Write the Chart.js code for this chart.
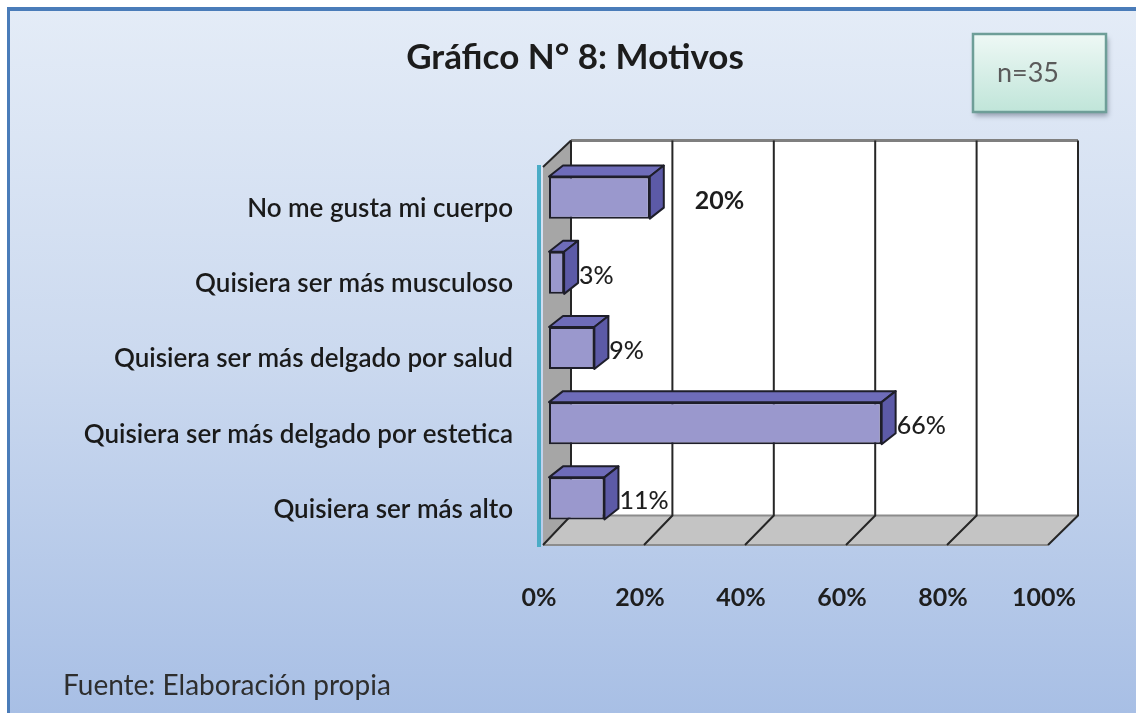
<!DOCTYPE html>
<html><head><meta charset="utf-8">
<script src="https://cdn.jsdelivr.net/npm/chart.js@4.4.1/dist/chart.umd.min.js"></script>
<style>html,body{margin:0;padding:0;background:#fff}canvas{display:block}</style>
</head><body>
<canvas id="c" width="1136" height="713"></canvas>
<script>
const categories = ["No me gusta mi cuerpo", "Quisiera ser más musculoso", "Quisiera ser más delgado por salud", "Quisiera ser más delgado por estetica", "Quisiera ser más alto"];
const percentages = [20, 3, 9, 66, 11];
const valueLabels = ["20%", "3%", "9%", "66%", "11%"];
const xTickValues = [0, 20, 40, 60, 80, 100];
const xTickLabels = ["0%", "20%", "40%", "60%", "80%", "100%"];
const chartTitle = "Gráfico N° 8: Motivos";
const sampleNote = "n=35";
const sourceNote = "Fuente: Elaboración propia";

const FONT = "Lato, 'Open Sans', sans-serif";
const labelNudge = [30, 0, 0, 0, 0];

function poly(ctx, pts, fill, stroke, lw) {
  ctx.beginPath();
  ctx.moveTo(pts[0][0], pts[0][1]);
  for (let i = 1; i < pts.length; i++) ctx.lineTo(pts[i][0], pts[i][1]);
  ctx.closePath();
  if (fill) { ctx.fillStyle = fill; ctx.fill(); }
  if (stroke) { ctx.strokeStyle = stroke; ctx.lineWidth = lw || 1; ctx.lineJoin = 'round'; ctx.stroke(); }
}

const backgroundPlugin = {
  id: 'bg',
  beforeDraw(chart) {
    const { ctx, width, height } = chart;
    ctx.save();
    ctx.fillStyle = '#ffffff';
    ctx.fillRect(0, 0, width, height);
    const g = ctx.createLinearGradient(0, 7, 0, height);
    g.addColorStop(0, '#e4ecf7');
    g.addColorStop(0.5, '#cbd9ef');
    g.addColorStop(1, '#a8bfe5');
    ctx.fillStyle = g;
    ctx.fillRect(7, 7, width - 7, height - 7);
    ctx.fillStyle = '#4a7cb9';
    ctx.fillRect(7, 7, width - 7, 4);
    ctx.fillRect(7, 7, 3, height - 7);

    // title
    ctx.fillStyle = '#1c1c1c';
    ctx.font = 'bold 35px ' + FONT;
    ctx.textAlign = 'center';
    ctx.textBaseline = 'alphabetic';
    ctx.fillText(chartTitle, 575, 69);

    // n box
    ctx.save();
    ctx.shadowColor = 'rgba(60,70,90,0.45)';
    ctx.shadowBlur = 5;
    ctx.shadowOffsetX = 2;
    ctx.shadowOffsetY = 4;
    const gb = ctx.createLinearGradient(0, 34, 0, 112);
    gb.addColorStop(0, '#eef8f5');
    gb.addColorStop(1, '#c0e5d9');
    ctx.fillStyle = gb;
    ctx.fillRect(973, 34, 133, 78);
    ctx.restore();
    ctx.strokeStyle = '#6e9e98';
    ctx.lineWidth = 2.5;
    ctx.strokeRect(973, 34, 133, 78);
    ctx.fillStyle = '#5a5a5a';
    ctx.font = '27px ' + FONT;
    ctx.textAlign = 'center';
    ctx.textBaseline = 'middle';
    ctx.fillText(sampleNote, 1028, 73);

    // source
    ctx.fillStyle = '#2e2e2e';
    ctx.font = '28px ' + FONT;
    ctx.textAlign = 'left';
    ctx.textBaseline = 'alphabetic';
    ctx.fillText(sourceNote, 63, 695);
    ctx.restore();
  }
};

const framePlugin = {
  id: 'frame3d',
  beforeDatasetsDraw(chart) {
    const { ctx, chartArea: a } = chart;
    const xs = chart.scales.x;
    const bx = v => xs.getPixelForValue(v) + 22 + v * 0.03;
    const fx = v => xs.getPixelForValue(v) - 6 + v * 0.01;
    const backTop = a.top - 19.5, backBot = a.bottom - 20.5;
    const frontTop = a.top + 7, frontBot = a.bottom + 9;
    ctx.save();
    poly(ctx, [[bx(0), backTop], [bx(0), backBot], [fx(0), frontBot], [fx(0), frontTop]], '#a6a6a6');
    ctx.fillStyle = '#ffffff';
    ctx.fillRect(bx(0), backTop, bx(100) - bx(0), backBot - backTop);
    poly(ctx, [[bx(0), backBot], [bx(100), backBot], [fx(100), frontBot], [fx(0), frontBot]], '#c4c4c4');
    ctx.strokeStyle = '#8c8c8c';
    ctx.lineWidth = 2;
    ctx.beginPath(); ctx.moveTo(fx(0), frontBot); ctx.lineTo(fx(100), frontBot); ctx.stroke();
    ctx.beginPath(); ctx.moveTo(bx(0), backBot); ctx.lineTo(bx(100), backBot); ctx.stroke();
    ctx.strokeStyle = '#7f7f7f';
    ctx.lineWidth = 3;
    ctx.beginPath(); ctx.moveTo(bx(0), backTop); ctx.lineTo(bx(100), backTop); ctx.stroke();
    ctx.strokeStyle = '#262626';
    ctx.lineWidth = 2;
    xTickValues.forEach(v => {
      ctx.beginPath();
      ctx.moveTo(bx(v), backTop);
      ctx.lineTo(bx(v), backBot);
      ctx.lineTo(fx(v), frontBot);
      ctx.stroke();
    });
    ctx.beginPath(); ctx.moveTo(fx(0), frontTop); ctx.lineTo(bx(0), backTop); ctx.stroke();
    ctx.strokeStyle = '#4bacc6';
    ctx.lineWidth = 4;
    ctx.beginPath(); ctx.moveTo(fx(0) - 4, frontTop - 2); ctx.lineTo(fx(0) - 4, frontBot + 2); ctx.stroke();

    ctx.fillStyle = '#1e1e1e';
    ctx.font = 'bold 25px ' + FONT;
    ctx.textAlign = 'center';
    ctx.textBaseline = 'alphabetic';
    xTickValues.forEach((v, i) => {
      ctx.fillText(xTickLabels[i], fx(v) - 4, 606);
    });
    ctx.restore();
  },
  afterDatasetsDraw(chart) {
    const { ctx } = chart;
    const meta = chart.getDatasetMeta(0);
    ctx.save();
    meta.data.forEach((bar, i) => {
      const p = bar.getProps(['x', 'y', 'base', 'height'], true);
      const top = p.y - p.height / 2, bot = p.y + p.height / 2;
      const dx = 14, dy = -11;
      poly(ctx, [[p.base, top], [p.x, top], [p.x + dx, top + dy], [p.base + dx, top + dy]], '#6e6cb9', '#1e1e2a', 2);
      poly(ctx, [[p.x, top], [p.x + dx, top + dy], [p.x + dx, bot + dy], [p.x, bot]], '#5c5aa7', '#1e1e2a', 2);
      ctx.fillStyle = '#1e1e1e';
      ctx.font = (i === 0 ? 'bold ' : '500 ') + '25px ' + FONT;
      ctx.textAlign = 'left';
      ctx.textBaseline = 'middle';
      ctx.fillText(valueLabels[i], p.x + dx + 1 + labelNudge[i], p.y + 3);
    });
    ctx.restore();
  }
};

new Chart(document.getElementById('c').getContext('2d'), {
  type: 'bar',
  data: {
    labels: categories,
    datasets: [{
      data: percentages,
      backgroundColor: '#9a98cd',
      borderColor: '#1e1e2a',
      borderWidth: 2,
      borderSkipped: false,
      barPercentage: 0.56,
      categoryPercentage: 1
    }]
  },
  options: {
    indexAxis: 'y',
    responsive: false,
    animation: false,
    devicePixelRatio: 1,
    layout: { padding: { left: 0, top: 160, right: 83, bottom: 177 } },
    plugins: { legend: { display: false }, title: { display: false }, tooltip: { enabled: false } },
    scales: {
      x: { display: false, min: 0, max: 100 },
      y: {
        grid: { display: false, drawTicks: false },
        border: { display: false },
        ticks: { padding: 36, labelOffset: 11, color: '#1a1a1a', font: { family: FONT, size: 26, weight: '600' } },
        afterFit(s) { s.width = 549; }
      }
    }
  },
  plugins: [backgroundPlugin, framePlugin]
});
</script>
</body></html>
